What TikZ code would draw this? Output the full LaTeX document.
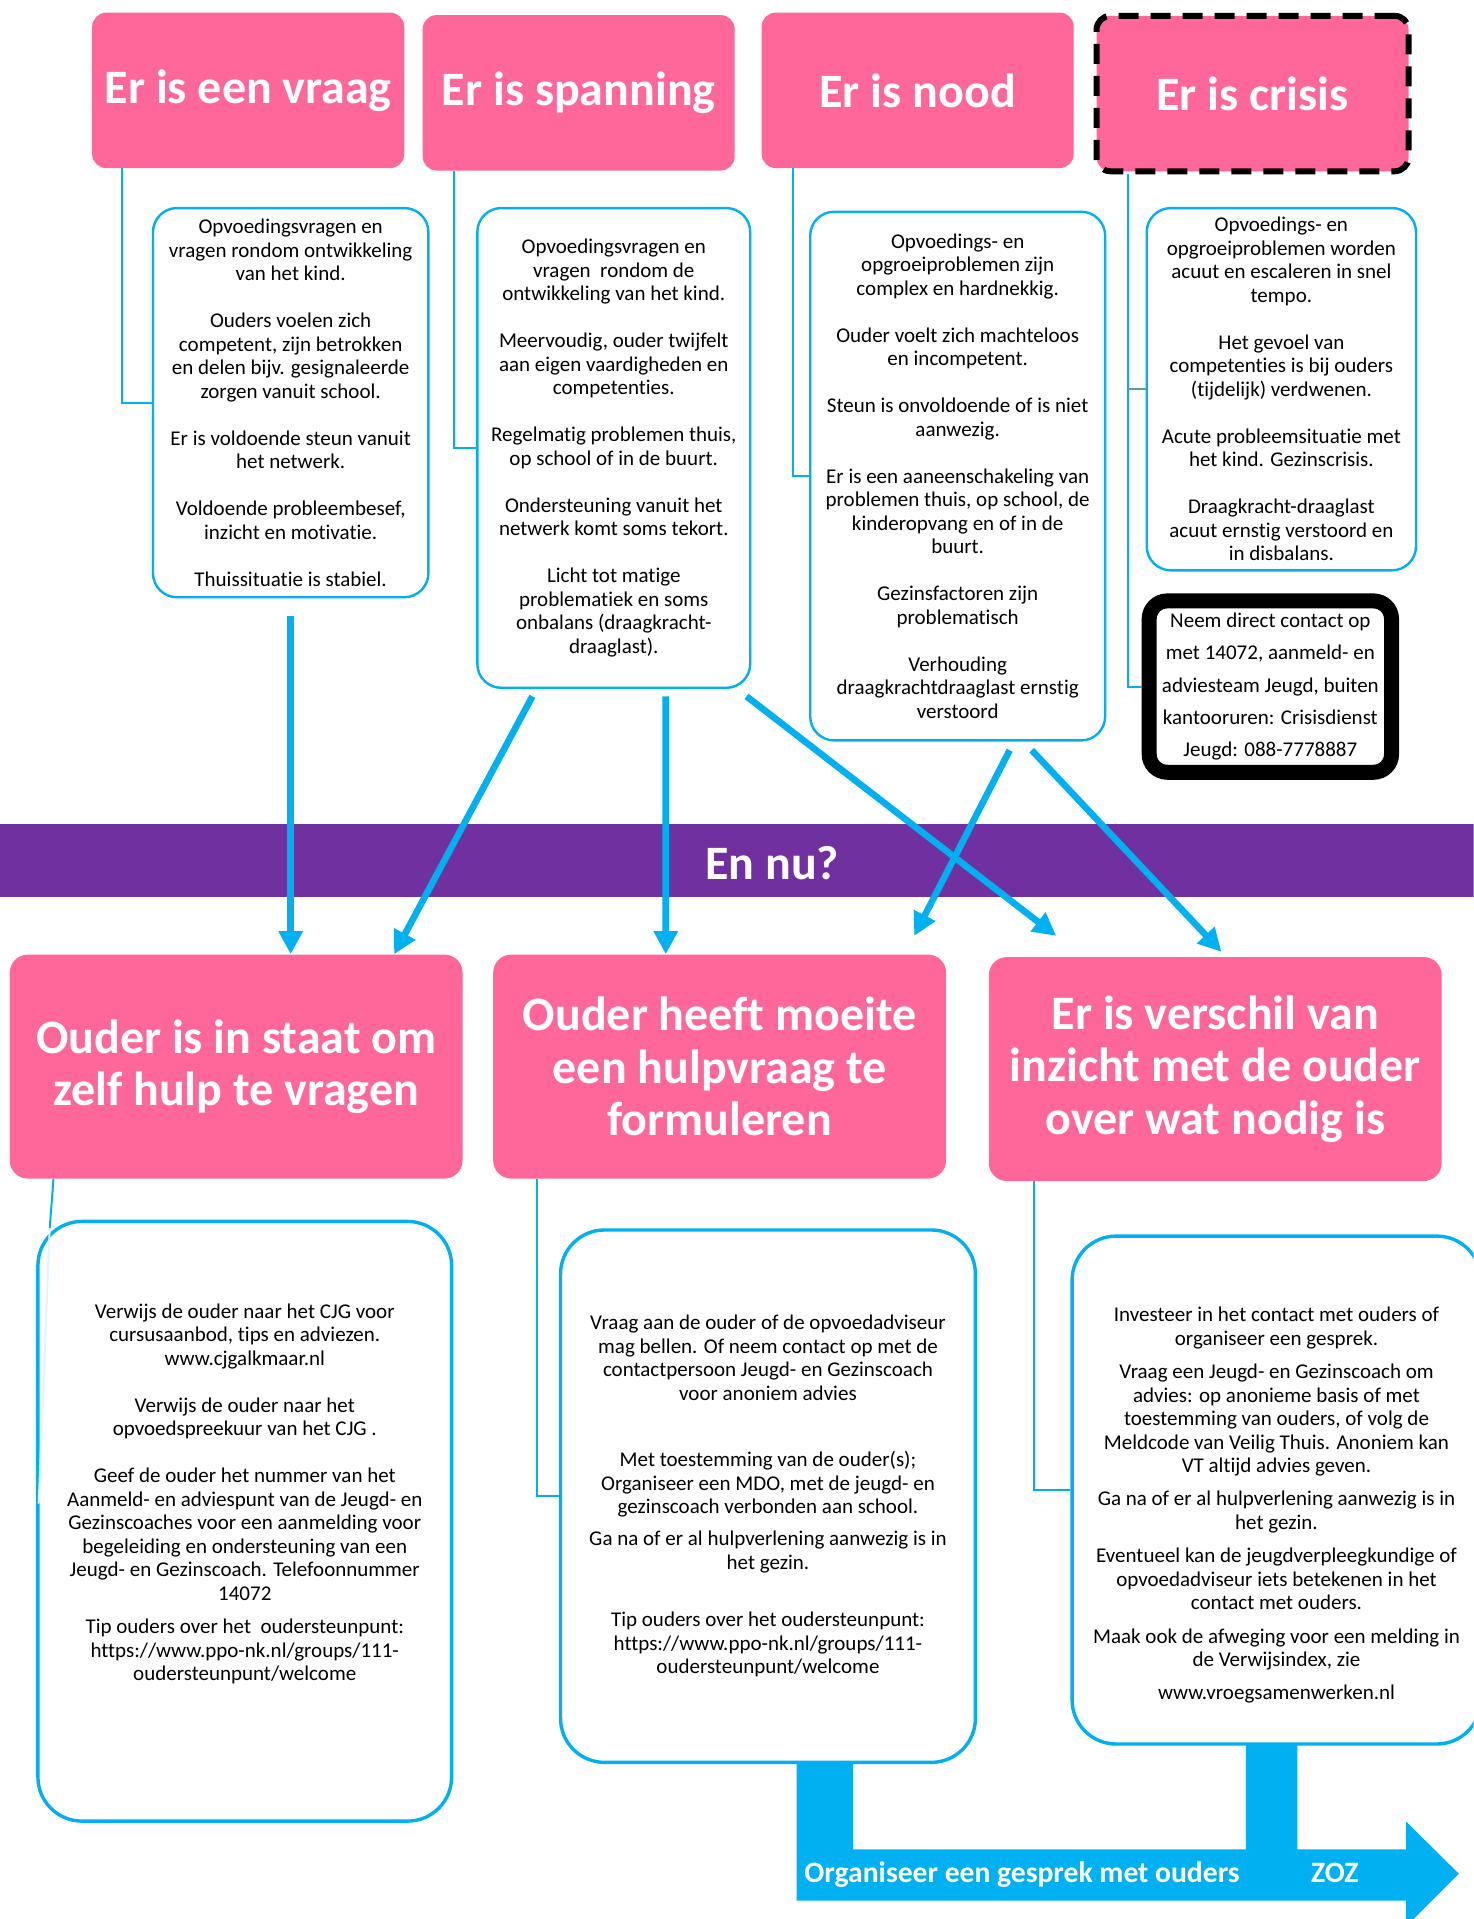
\documentclass[tikz,border=0pt]{standalone}
\usepackage{fontspec}
\setmainfont{Carlito}[Ligatures={NoCommon}]
\usetikzlibrary{arrows.meta}

\definecolor{roze}{HTML}{FF6699}
\definecolor{blauw}{HTML}{00B0F0}
\definecolor{paars}{HTML}{7030A0}
\definecolor{tak}{HTML}{5E9E8A}

\newlength\regel
\setlength\regel{11.75pt}

\tikzset{
	koptekst/.style={text=white, align=center, inner sep=0pt, font=\bfseries\fontsize{24}{26.3}\selectfont},
	kop/.style={koptekst, fill=roze, rounded corners=7pt},
	kopcrisis/.style={kop, draw=black, line width=3pt, dash pattern=on 10pt off 6pt},
	vaktekst/.style={align=center, inner sep=0pt, font=\fontsize{10.5}{11.75}\selectfont},
	vak/.style={vaktekst, draw=blauw, line width=1.2pt, fill=white, rounded corners=12pt},
	zwartvak/.style={vaktekst, draw=black, line width=7.5pt, fill=white, rounded corners=9pt, font=\fontsize{10.5}{16.2}\selectfont},
	lijn/.style={blauw, line width=1pt},
	pijl/.style={blauw, line width=3.3pt, -{Triangle[length=11.5pt, width=11.5pt]}},
	bandtekst/.style={text=white, inner sep=0pt, anchor=base west, font=\bfseries\fontsize{14.8}{16}\selectfont}
}

\begin{document}
\begin{tikzpicture}[x=0.6118pt, y=-0.6118pt]

	%all positions are in pixels of the 1204 x 1568 page, y runs downwards

	\def\px{0.6118pt}
	\def\kopbreedte{255}
	\def\kophoogte{127}

	\useasboundingbox (0,0) rectangle (1204,1568);
	\clip (0,0) rectangle (1204,1568);

	%headers, top row
	\foreach \naam/\xpos/\ypos/\stijl/\tekst in {vraag/75/10/kop/Er is een vraag, spanning/345/12/kop/Er is spanning, nood/622/10/kop/Er is nood, crisis/893.5/10.5/kopcrisis/Er is crisis}
	{
		\node[\stijl, anchor=north west, minimum width=\kopbreedte*\px, minimum height=\kophoogte*\px] (k\naam) at (\xpos,\ypos) {\tekst};
	}

	%description boxes, top row
	\node[vak, minimum width=225*\px, minimum height=318*\px] (dvraag) at (237.5,329) {Opvoedingsvragen en\\vragen rondom ontwikkeling\\van het kind.\\[\regel]Ouders voelen zich\\competent, zijn betrokken\\en delen bijv. gesignaleerde\\zorgen vanuit school.\\[\regel]Er is voldoende steun vanuit\\het netwerk.\\[\regel]Voldoende probleembesef,\\inzicht en motivatie.\\[\regel]Thuissituatie is stabiel.};

	\node[vak, minimum width=223*\px, minimum height=392*\px] (dspanning) at (501.5,366) {Opvoedingsvragen en\\vragen\ \ rondom de\\ontwikkeling van het kind.\\[\regel]Meervoudig, ouder twijfelt\\aan eigen vaardigheden en\\competenties.\\[\regel]Regelmatig problemen thuis,\\op school of in de buurt.\\[\regel]Ondersteuning vanuit het\\netwerk komt soms tekort.\\[\regel]Licht tot matige\\problematiek en soms\\onbalans (draagkracht-\\draaglast).};

	\node[vak, minimum width=241*\px, minimum height=432*\px] (dnood) at (782.5,389) {Opvoedings- en\\opgroeiproblemen zijn\\complex en hardnekkig.\\[\regel]Ouder voelt zich machteloos\\en incompetent.\\[\regel]Steun is onvoldoende of is niet\\aanwezig.\\[\regel]Er is een aaneenschakeling van\\problemen thuis, op school, de\\kinderopvang en of in de\\buurt.\\[\regel]Gezinsfactoren zijn\\problematisch\\[\regel]Verhouding\\draagkrachtdraaglast ernstig\\verstoord};

	\node[vak, minimum width=220*\px, minimum height=296*\px] (dcrisis) at (1047,318) {Opvoedings- en\\opgroeiproblemen worden\\acuut en escaleren in snel\\tempo.\\[\regel]Het gevoel van\\competenties is bij ouders\\(tijdelijk) verdwenen.\\[\regel]Acute probleemsituatie met\\het kind. Gezinscrisis.\\[\regel]Draagkracht-draaglast\\acuut ernstig verstoord en\\in disbalans.};

	\node[zwartvak, minimum width=198*\px, minimum height=140*\px] (kcontact) at (1038,561) {Neem direct contact op\\met 14072, aanmeld- en\\adviesteam Jeugd, buiten\\kantooruren: Crisisdienst\\Jeugd: 088-7778887};

	%thin connectors, top row
	\draw[lijn] ([xshift=25*\px]kvraag.south west) |- (dvraag.west);
	\draw[lijn] ([xshift=26*\px]kspanning.south west) |- (dspanning.west);
	\draw[lijn] ([xshift=26*\px]knood.south west) |- (dnood.west);
	\draw[lijn] ([xshift=28*\px]kcrisis.south west) coordinate (aftak) |- (kcontact.west);
	\draw[lijn, tak] (aftak |- dcrisis.west) -- (dcrisis.west);

	%purple band
	\fill[paars] (0,673) rectangle (1204,733);
	\node[koptekst] (ennu) at (631,705) {En nu?};

	%headers, bottom row
	\foreach \naam/\xpos/\ypos/\tekst in {zelf/193/871.5/{Ouder is in staat om\\zelf hulp te vragen}, moeite/588/871.5/{Ouder heeft moeite\\een hulpvraag te\\formuleren}, verschil/993/873.5/{Er is verschil van\\inzicht met de ouder\\over wat nodig is}}
	{
		\node[kop, rounded corners=9pt, minimum width=370*\px, minimum height=183*\px] (b\naam) at (\xpos,\ypos) {\tekst};
	}

	%Arrows
	\draw[pijl] ([yshift=-14*\px]dvraag.south) -- (dvraag.south |- bzelf.north);
	\draw[pijl] ([shift={(-66.5,6)}]dspanning.south) -- ([xshift=129*\px]bzelf.north);
	\draw[pijl] ([shift={(42.5,6)}]dspanning.south) -- ([xshift=-44*\px]bmoeite.north);
	\draw[pijl] ([shift={(108.5,6)}]dspanning.south) -- ([shift={(-130,-17)}]bverschil.north);
	\draw[pijl] ([shift={(42.5,7)}]dnood.south) -- ([shift={(159,-15)}]bmoeite.north);
	\draw[pijl] ([shift={(60.5,7)}]dnood.south) -- ([shift={(5,-4)}]bverschil.north);

	%fat arrow at the bottom
	\fill[blauw] (651,1440) -- (697,1440) -- (697,1511) -- (1018,1511) -- (1018,1425) -- (1060,1425) -- (1060,1511) -- (1149,1511) -- (1149,1488.5) -- (1192,1531) -- (1149,1574) -- (1149,1553) -- (651,1553) -- cycle;
	\node[bandtekst] (organiseer) at (657,1538) {Organiseer een gesprek met ouders};
	\node[bandtekst] (zoz) at (1071,1538) {ZOZ};

	%description boxes, bottom row
	\node[vak, line width=1.7pt, rounded corners=22pt, minimum width=338*\px, minimum height=490*\px] (wzelf) at (200,1243) {};
	\node[vaktekst] (tzelf) at (200,1220.5) {Verwijs de ouder naar het CJG voor\\cursusaanbod, tips en adviezen.\\www.cjgalkmaar.nl\\[\regel]Verwijs de ouder naar het\\opvoedspreekuur van het CJG .\\[\regel]Geef de ouder het nummer van het\\Aanmeld- en adviespunt van de Jeugd- en\\Gezinscoaches voor een aanmelding voor\\begeleiding en ondersteuning van een\\Jeugd- en Gezinscoach. Telefoonnummer\\14072\\[4.9pt]Tip ouders over het\ \ oudersteunpunt:\\https://www.ppo-nk.nl/groups/111-\\oudersteunpunt/welcome};

	\node[vak, line width=1.7pt, rounded corners=22pt, minimum width=339*\px, minimum height=435*\px] (wmoeite) at (627.5,1222.5) {};
	\node[vaktekst] (tmoeite) at (627.5,1222.5) {Vraag aan de ouder of de opvoedadviseur\\mag bellen. Of neem contact op met de\\contactpersoon Jeugd- en Gezinscoach\\voor anoniem advies\\[21.4pt]Met toestemming van de ouder(s);\\Organiseer een MDO, met de jeugd- en\\gezinscoach verbonden aan school.\\[4.3pt]Ga na of er al hulpverlening aanwezig is in\\het gezin.\\[17.1pt]Tip ouders over het oudersteunpunt:\\https://www.ppo-nk.nl/groups/111-\\oudersteunpunt/welcome};

	\node[vak, line width=1.7pt, rounded corners=22pt, minimum width=334*\px, minimum height=415*\px] (wverschil) at (1043,1217.5) {};
	\node[vaktekst] (tverschil) at (1043,1230) {Investeer in het contact met ouders of\\organiseer een gesprek.\\[4.9pt]Vraag een Jeugd- en Gezinscoach om\\advies: op anonieme basis of met\\toestemming van ouders, of volg de\\Meldcode van Veilig Thuis. Anoniem kan\\VT altijd advies geven.\\[4.9pt]Ga na of er al hulpverlening aanwezig is in\\het gezin.\\[4.9pt]Eventueel kan de jeugdverpleegkundige of\\opvoedadviseur iets betekenen in het\\contact met ouders.\\[4.9pt]Maak ook de afweging voor een melding in\\de Verwijsindex, zie\\[4.9pt]www.vroegsamenwerken.nl};

	%thin connectors, bottom row
	\draw[lijn] ([xshift=36*\px]bzelf.south west) -- ([shift={(11,7)}]wzelf.north west) coordinate (rand);
	\draw[lijn, blauw!12] (rand) -- ([shift={(2,232)}]wzelf.north west);
	\draw[lijn] ([xshift=36*\px]bmoeite.south west) |- (wmoeite.west);
	\draw[lijn] ([xshift=37*\px]bverschil.south west) |- (wverschil.west);

\end{tikzpicture}
\end{document}
